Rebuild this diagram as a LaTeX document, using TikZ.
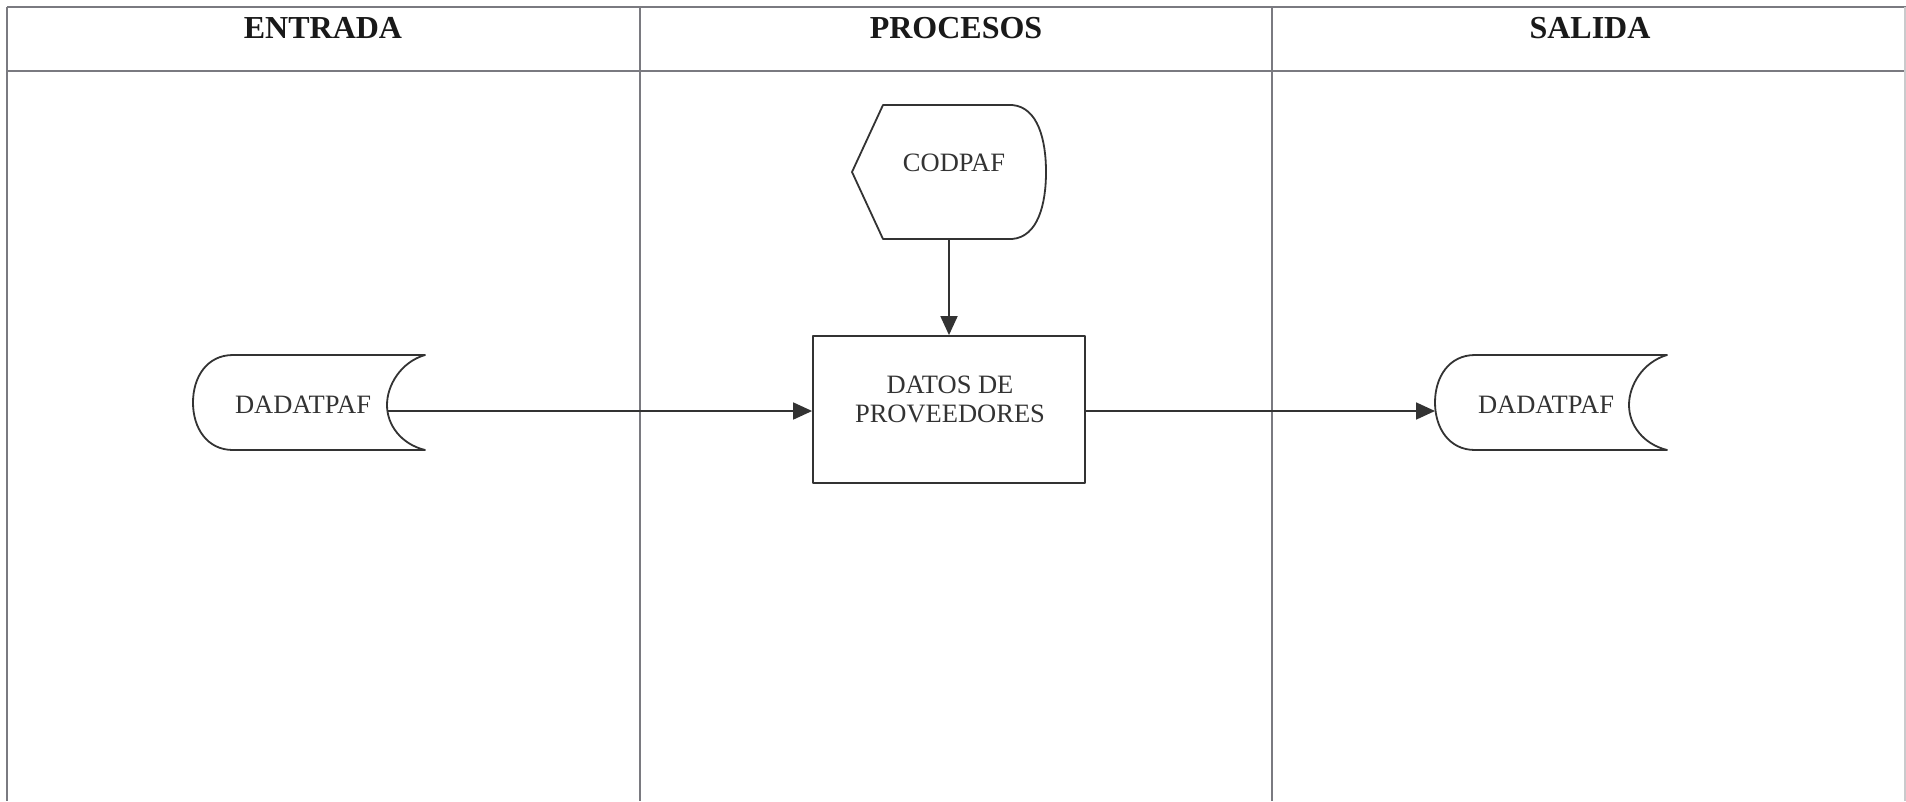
\documentclass[tikz,border=0pt]{standalone}
\usepackage{fontspec}
\setmainfont{Liberation Serif}
\usetikzlibrary{arrows.meta}
\definecolor{gridc}{HTML}{7A7A80}
\definecolor{inkc}{HTML}{333333}
\begin{document}
\begin{tikzpicture}[x=1pt,y=-1pt,
  grid/.style={draw=gridc,line width=2pt},
  shp/.style={draw=inkc,line width=1.8pt,line join=round},
  lbl/.style={font=\fontsize{26.5}{29}\selectfont,text=inkc,inner sep=0pt},
  hdr/.style={font=\fontsize{32}{36}\selectfont\bfseries,text=black!90,inner sep=0pt,anchor=base},
  arr/.style={draw=inkc,line width=1.8pt,-{Triangle[length=19pt,width=17pt]}}]
\useasboundingbox (0,0) rectangle (1906,801);
\fill[white] (0,0) rectangle (1906,801);
% table
\draw[grid] (7,7) -- (1906,7);
\draw[grid] (7,70.5) -- (1906,70.5);
\draw[grid] (7,7) -- (7,801);
\draw[grid] (639.5,7) -- (639.5,801);
\draw[grid] (1272,7) -- (1272,801);
\draw[grid,draw=gridc!40] (1905,7) -- (1905,801);
% headers
\node[hdr] (hin) at (323,38) {ENTRADA};
\node[hdr] (hproc) at (956,38) {PROCESOS};
\node[hdr] (hout) at (1590,38) {SALIDA};
% CODPAF display shape
\draw[shp] (852,172) -- (883,105) -- (1012,105)
  .. controls (1038,107) and (1046,140) .. (1046,172)
  .. controls (1046,204) and (1038,237) .. (1012,239)
  -- (883,239) -- cycle;
\coordinate (codB) at (949,239);
\node[lbl,anchor=base] (cod) at (954,171) {CODPAF};
% process box
\node[shp,minimum width=272pt,minimum height=147pt,inner sep=0pt] (proc) at (949,409.5) {};
\node[lbl,align=center,anchor=center] (proct) at (950,399.5) {DATOS DE\\PROVEEDORES};
% left storage
\draw[shp] (233,355) -- (425,355)
  .. controls (401,362) and (387,385) .. (387,405)
  .. controls (387,425) and (401,444) .. (425,450)
  -- (233,450)
  .. controls (207,450) and (193,428) .. (193,402.5)
  .. controls (193,377) and (207,355) .. (233,355);
\node[lbl,anchor=base] (din) at (303,413) {DADATPAF};
\coordinate (dinR) at (387,411);
% right storage
\begin{scope}[xshift=1242pt]
\draw[shp] (233,355) -- (425,355)
  .. controls (401,362) and (387,385) .. (387,405)
  .. controls (387,425) and (401,444) .. (425,450)
  -- (233,450)
  .. controls (207,450) and (193,428) .. (193,402.5)
  .. controls (193,377) and (207,355) .. (233,355);
\end{scope}
\node[lbl,anchor=base] (dout) at (1546,413) {DADATPAF};
\coordinate (doutL) at (1435,411);
% connectors
\draw[arr] (codB) -- (proc.north);
\draw[arr] (dinR) -- (dinR -| proc.west);
\draw[arr] (proc.east |- dinR) -- (doutL);
\end{tikzpicture}
\end{document}
